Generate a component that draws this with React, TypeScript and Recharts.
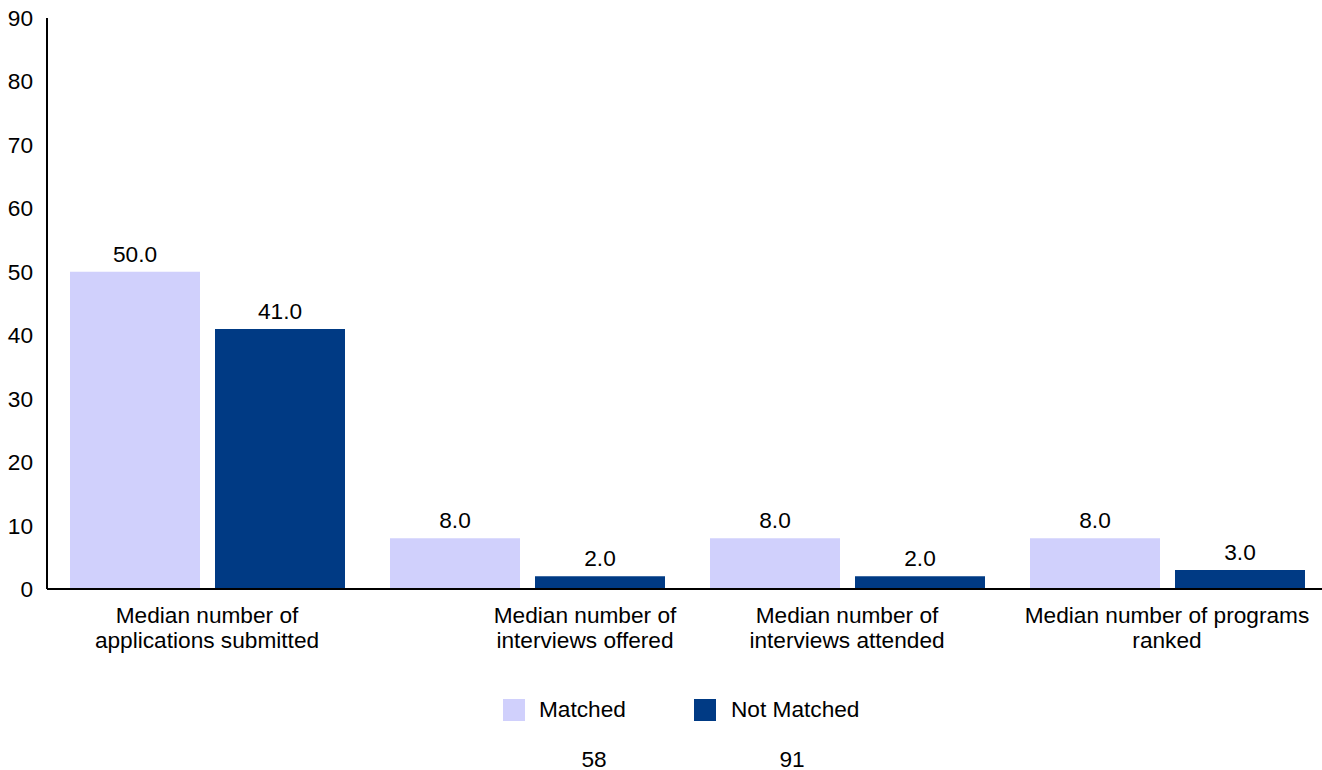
import React from 'react';
import { BarChart, Bar, XAxis, YAxis, LabelList, Legend } from 'recharts';

const categories = [
  'Median number of\napplications submitted',
  'Median number of\ninterviews offered',
  'Median number of\ninterviews attended',
  'Median number of programs\nranked',
];
const matched = [50, 8, 8, 8];
const notMatched = [41, 2, 2, 3];
const seriesNames = ['Matched', 'Not Matched'];
const sampleSizes = [58, 91];
const yTicks = [0, 10, 20, 30, 40, 50, 60, 70, 80, 90];

const COLORS = ['#D0D0FC', '#003A84'];
const FONT = '"Liberation Sans", Arial, Helvetica, sans-serif';
const FS = 22.67;
const TEXT = '#000000';
const TICK_SHIFT = [0, 58, 0, 0];

const data = categories.map((c, i) => ({
  category: c,
  matched: matched[i],
  notMatched: notMatched[i],
}));

const CategoryTick = (props: any) => {
  const { x, y, payload, index } = props;
  const lines = String(payload.value).split('\n');
  const sx = x + (TICK_SHIFT[index] ?? 0);
  return (
    <text x={sx} y={y} textAnchor="middle" fontSize={FS} fontFamily={FONT} fill={TEXT}>
      {lines.map((l, i) => (
        <tspan key={i} x={sx} dy={i === 0 ? 26 : 24.5}>
          {l}
        </tspan>
      ))}
    </text>
  );
};

const LegendContent = () => {
  const swatchLeft = [503, 694];
  const textLeft = [539, 731];
  const nCenter = [594, 792];
  return (
    <div style={{ position: 'relative', width: 1322, height: 80, fontFamily: FONT, fontSize: FS, color: TEXT }}>
      {seriesNames.map((name, i) => (
        <React.Fragment key={name}>
          <div style={{ position: 'absolute', left: swatchLeft[i], top: 9, width: 22, height: 22, background: COLORS[i] }} />
          <div style={{ position: 'absolute', left: textLeft[i], top: 8, lineHeight: '22px', whiteSpace: 'nowrap' }}>{name}</div>
          <div style={{ position: 'absolute', left: nCenter[i] - 50, width: 100, textAlign: 'center', top: 57.5, lineHeight: '22px' }}>
            {sampleSizes[i]}
          </div>
        </React.Fragment>
      ))}
    </div>
  );
};

export default function App() {
  return (
    <div style={{ position: 'absolute', left: 0, top: 0, width: 1322, height: 770, overflow: 'hidden', background: '#fff' }}>
      <BarChart
        width={1330}
        height={770}
        data={data}
        margin={{ top: 18, right: 3, left: 0, bottom: 0 }}
        barSize={130}
        barGap={15}
      >
        <XAxis
          dataKey="category"
          interval={0}
          tickLine={false}
          axisLine={{ stroke: '#000', strokeWidth: 2 }}
          tick={<CategoryTick />}
          height={101}
        />
        <YAxis
          width={47}
          domain={[0, 90]}
          ticks={yTicks}
          interval={0}
          tickLine={false}
          tickSize={12}
          tickMargin={2}
          axisLine={{ stroke: '#000', strokeWidth: 2 }}
          tick={{ fontSize: FS, fontFamily: FONT, fill: TEXT }}
        />
        <Legend verticalAlign="bottom" content={<LegendContent />} wrapperStyle={{ left: 0, width: 1322 }} />
        <Bar dataKey="matched" name={seriesNames[0]} fill={COLORS[0]} isAnimationActive={false}>
          <LabelList
            dataKey="matched"
            position="top"
            offset={10}
            formatter={(v: any) => Number(v).toFixed(1)}
            fontSize={FS}
            fontFamily={FONT}
            fill={TEXT}
          />
        </Bar>
        <Bar dataKey="notMatched" name={seriesNames[1]} fill={COLORS[1]} isAnimationActive={false}>
          <LabelList
            dataKey="notMatched"
            position="top"
            offset={10}
            formatter={(v: any) => Number(v).toFixed(1)}
            fontSize={FS}
            fontFamily={FONT}
            fill={TEXT}
          />
        </Bar>
      </BarChart>
    </div>
  );
}
